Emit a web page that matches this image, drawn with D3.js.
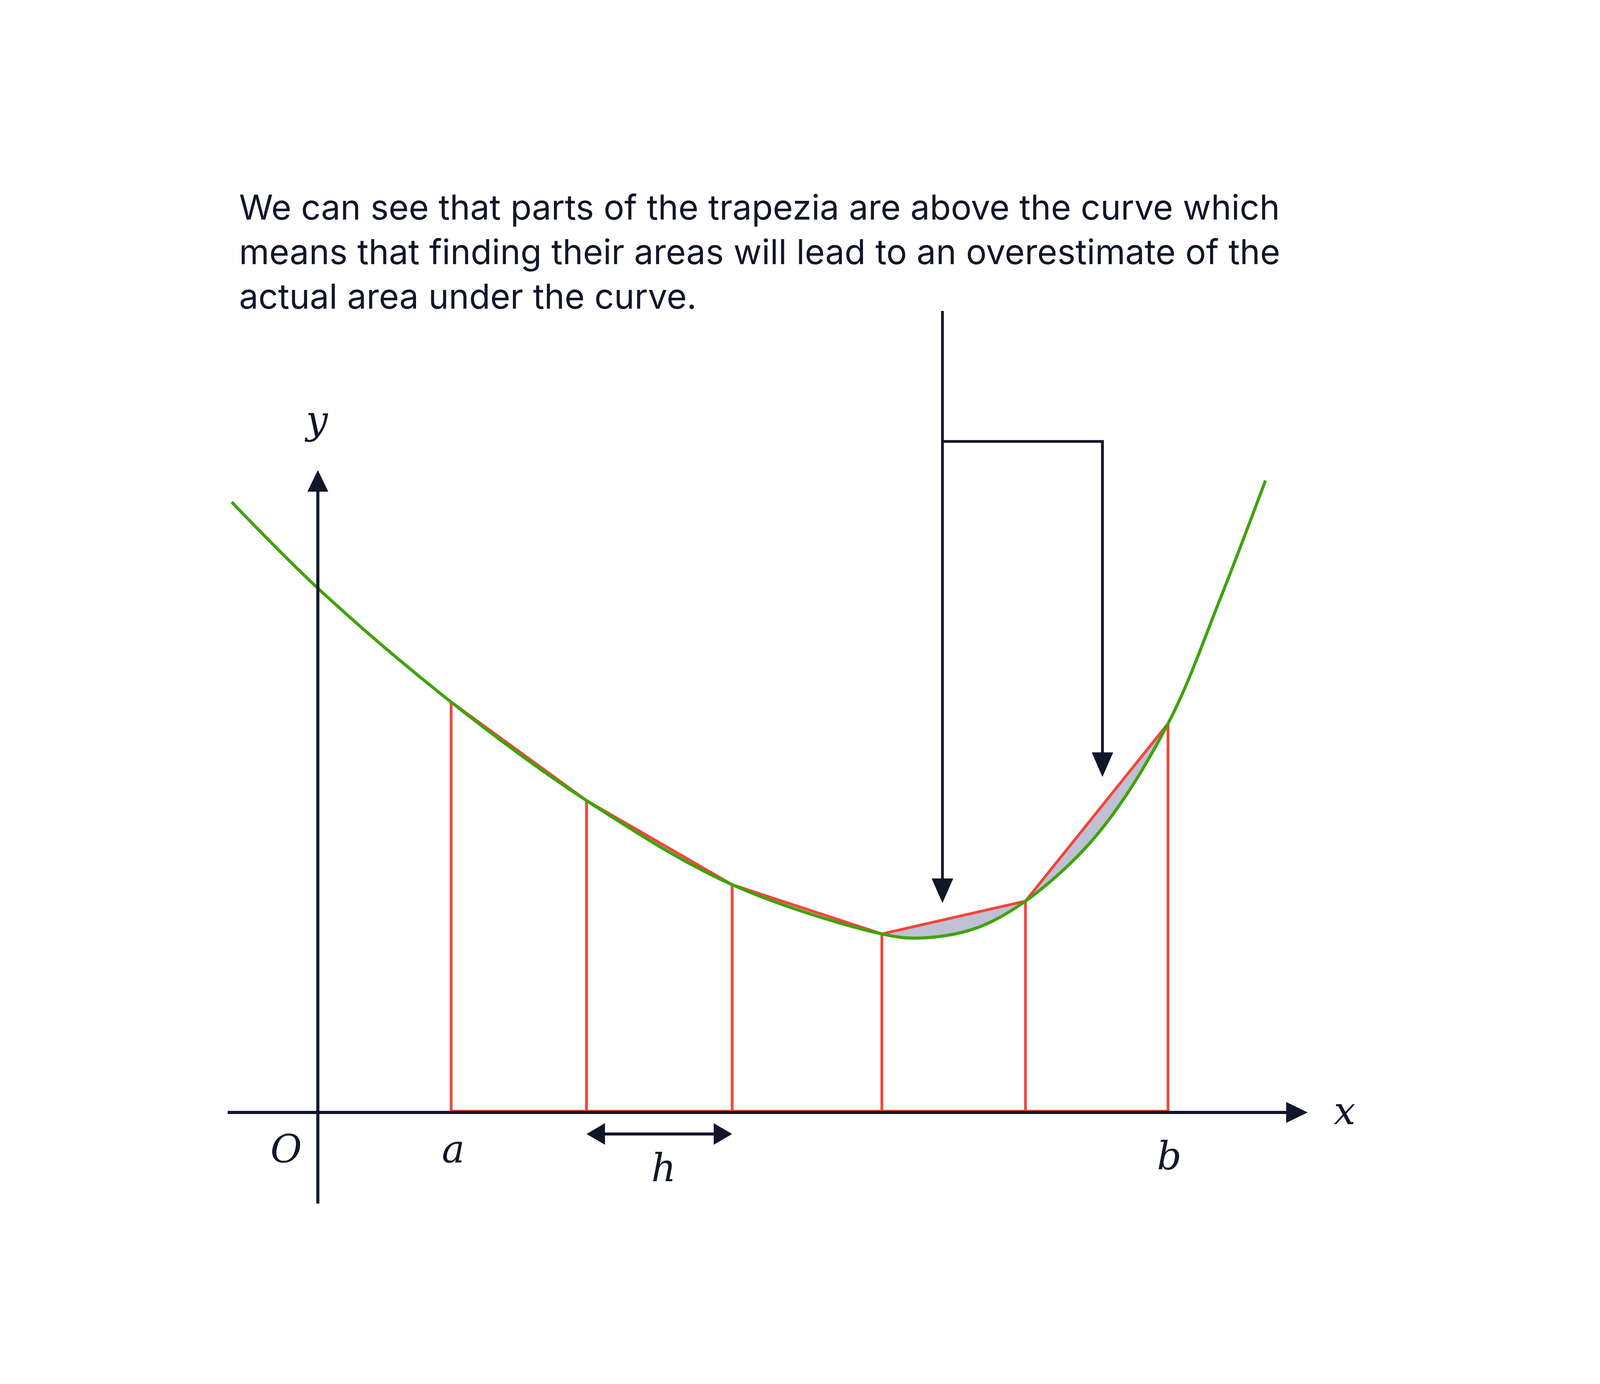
<!DOCTYPE html>
<html><head><meta charset="utf-8">
<script src="https://cdn.jsdelivr.net/npm/d3@7"></script>
<style>html,body{margin:0;background:#fff;overflow:hidden}svg{display:block}</style></head>
<body><div id="chart"></div>
<script>
// curve samples (x, y) in diagram units
const curveX = [-8.4, 0, 13, 26.2, 40.4, 55, 58.7, 64, 69, 76, 82.9, 88, 92.4];
const curveY = [59.5, 51.1, 40, 30.4, 22.2, 17.4, 17.0, 17.9, 20.6, 27.1, 37.9, 50.1, 61.6];
// trapezium nodes
const nodeX = [13, 26.2, 40.4, 55, 69, 82.9];
const nodeY = [40, 30.4, 22.2, 17.4, 20.6, 37.9];
const caption = [
  "We can see that parts of the trapezia are above the curve which",
  "means that finding their areas will lead to an overestimate of the",
  "actual area under the curve."
];

const W = 5200, H = 3542;
const ink = "#111628", red = "#f4443a", green = "#3fa30a";
const svg = d3.select("#chart").append("svg")
  .attr("viewBox", `0 0 ${W} ${H}`)
  .attr("preserveAspectRatio", "xMidYMid meet")
  .style("width", "100vw").style("height", "100vh");

const x = d3.scaleLinear([0, 100], [1033, 1033 + 3333]);
const y = d3.scaleLinear([0, 100], [3137, 3137 - 3333]);

const curve = curveX.map((v, i) => [v, curveY[i]]);
const nodes = nodeX.map((v, i) => [v, nodeY[i]]);

const line = d3.line().x(d => x(d[0])).y(d => y(d[1]));

// shaded overestimate: chord polygon in grey, then the area under the curve in white
svg.append("path")
  .attr("d", line([[nodeX[0], 0], ...nodes, [nodeX[nodeX.length - 1], 0]]) + "Z")
  .attr("fill", "#bfc0d3");
svg.append("path")
  .attr("d", d3.area().x(d => x(d[0])).y0(y(0)).y1(d => y(d[1])).curve(d3.curveCatmullRom)(curve))
  .attr("fill", "#fff");

// red trapezia
svg.selectAll("line.side").data(nodes).join("line")
  .attr("x1", d => x(d[0])).attr("x2", d => x(d[0]))
  .attr("y1", y(0)).attr("y2", d => y(d[1]))
  .attr("stroke", red).attr("stroke-width", 9);
svg.append("path").attr("d", line(nodes)).attr("fill", "none")
  .attr("stroke", red).attr("stroke-width", 9).attr("stroke-linejoin", "round");
svg.append("line")
  .attr("x1", x(nodeX[0])).attr("x2", x(nodeX[nodeX.length - 1]))
  .attr("y1", y(0) - 4).attr("y2", y(0) - 4)
  .attr("stroke", red).attr("stroke-width", 9);

// green curve
svg.append("path")
  .attr("d", d3.line().x(d => x(d[0])).y(d => y(d[1])).curve(d3.curveCatmullRom)(curve))
  .attr("fill", "none").attr("stroke", green).attr("stroke-width", 10);

function head(x0, y0, dir, len, wid) {
  // (x0,y0) is the tip
  let pts;
  if (dir === "down") pts = [[x0, y0], [x0 - wid / 2, y0 - len], [x0 + wid / 2, y0 - len]];
  if (dir === "up") pts = [[x0, y0], [x0 - wid / 2, y0 + len], [x0 + wid / 2, y0 + len]];
  if (dir === "right") pts = [[x0, y0], [x0 - len, y0 - wid / 2], [x0 - len, y0 + wid / 2]];
  if (dir === "left") pts = [[x0, y0], [x0 + len, y0 - wid / 2], [x0 + len, y0 + wid / 2]];
  svg.append("polygon").attr("points", pts.map(p => p.join(",")).join(" ")).attr("fill", ink);
}

// axes
svg.append("line").attr("x1", 740).attr("x2", 4200).attr("y1", y(0)).attr("y2", y(0))
  .attr("stroke", ink).attr("stroke-width", 10);
head(4250, y(0), "right", 70, 68);
svg.append("line").attr("x1", x(0)).attr("x2", x(0)).attr("y1", 3433).attr("y2", 1100)
  .attr("stroke", ink).attr("stroke-width", 10);
head(x(0), 1050, "up", 70, 68);

// h arrow
const hy = 3207;
svg.append("line").attr("x1", x(nodeX[1]) + 40).attr("x2", x(nodeX[2]) - 40).attr("y1", hy).attr("y2", hy)
  .attr("stroke", ink).attr("stroke-width", 10);
head(x(nodeX[1]), hy, "left", 60, 70);
head(x(nodeX[2]), hy, "right", 60, 70);

// pointer arrows
svg.append("line").attr("x1", 3063).attr("x2", 3063).attr("y1", 533).attr("y2", 2400)
  .attr("stroke", ink).attr("stroke-width", 9);
head(3063, 2457, "down", 80, 70);
svg.append("path").attr("d", "M3063,957H3583V2000").attr("fill", "none")
  .attr("stroke", ink).attr("stroke-width", 9);
head(3583, 2047, "down", 80, 70);

// labels
const lab = (t, px, py) => svg.append("text").text(t).attr("x", px).attr("y", py)
  .attr("text-anchor", "middle").attr("font-family", "DejaVu Serif").attr("font-style", "italic")
  .attr("font-size", 125).attr("fill", ink);
lab("y", 1030, 930);
lab("x", 4370, 3175);
lab("O", 930, 3300);
lab("a", 1473, 3300);
lab("h", 2157, 3360);
lab("b", 3800, 3323);

svg.selectAll("text.cap").data(caption).join("text").attr("class", "cap")
  .attr("x", 777).attr("y", (d, i) => 236 + i * 145).text(d => d)
  .attr("font-family", "Inter").attr("font-size", 112).attr("fill", ink);
</script></body></html>
